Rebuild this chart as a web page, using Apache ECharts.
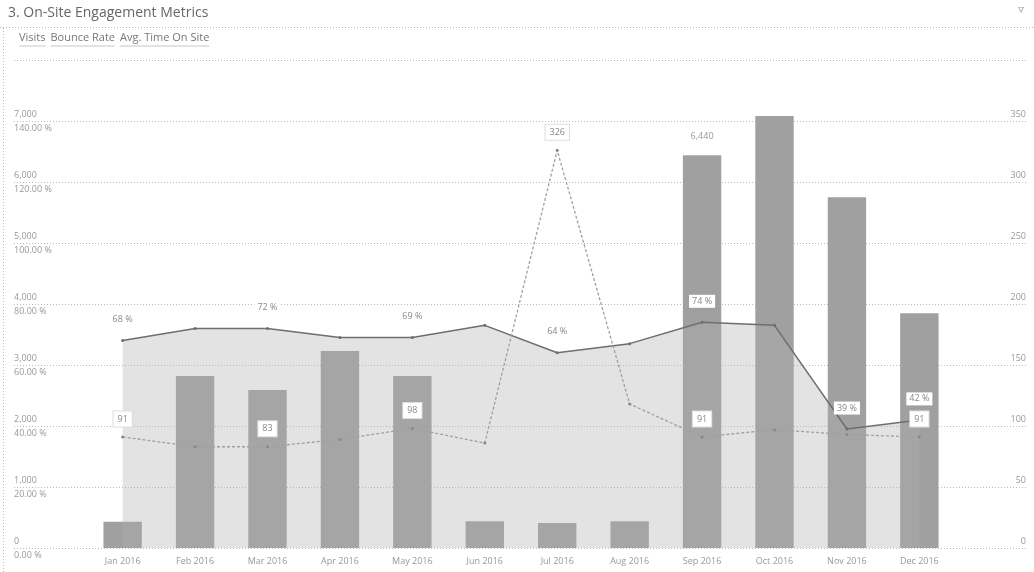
<!DOCTYPE html>
<html>
<head>
<meta charset="utf-8">
<title>On-Site Engagement Metrics</title>
<script src="https://cdn.jsdelivr.net/npm/echarts/dist/echarts.min.js"></script>
<style>
  html, body { margin: 0; padding: 0; background: #fff; }
  #chart { width: 1034px; height: 572px; }
</style>
</head>
<body>
<div id="chart"></div>
<script>
// Monthly engagement figures for 2016
const months = ['Jan 2016', 'Feb 2016', 'Mar 2016', 'Apr 2016', 'May 2016', 'Jun 2016',
                'Jul 2016', 'Aug 2016', 'Sep 2016', 'Oct 2016', 'Nov 2016', 'Dec 2016'];
const visits = [430, 2820, 2590, 3230, 2820, 440, 410, 440, 6440, 7080, 5750, 3850];
const bounceRate = [68, 72, 72, 69, 69, 73, 64, 67, 74, 73, 39, 42];        // %
const avgTimeOnSite = [91, 83, 83, 89, 98, 86, 326, 118, 91, 97, 93, 91];   // seconds

// Months whose value labels are printed
const visitLabelMonths = [8];
const bounceLabelMonths = [0, 2, 4, 6, 8, 10, 11];
const timeLabelMonths = [0, 2, 4, 6, 8, 11];

// One empty slot at each end leaves room for the inside axis labels
const categories = [''].concat(months, ['']);
const pad = arr => [null].concat(arr, [null]);
const withLabels = (arr, shown) =>
  pad(arr).map((v, i) => v == null ? null : { value: v, label: { show: shown.includes(i - 1) } });

const chart = echarts.init(document.getElementById('chart'));

chart.setOption({
  animation: false,
  backgroundColor: '#fff',
  textStyle: { fontFamily: 'Open Sans, sans-serif' },
  title: {
    text: '3. On-Site Engagement Metrics',
    left: 3, top: 1,
    textStyle: { fontSize: 14, fontWeight: 'normal', color: '#666' }
  },
  legend: {
    left: 9, top: 27,
    icon: 'none',
    itemWidth: 0, itemGap: 0,
    data: ['Visits', 'Bounce Rate', 'Avg. Time On Site'],
    formatter: name => '{t|' + name + '}\n{u| }',
    textStyle: {
      rich: {
        t: { fontSize: 11, color: '#777', lineHeight: 13 },
        u: { width: '100%', height: 1, lineHeight: 4, backgroundColor: '#c8c8c8', fontSize: 1 }
      }
    }
  },
  graphic: [
    { type: 'line', shape: { x1: 0, y1: 27.5, x2: 1034, y2: 27.5 },
      style: { stroke: '#bbb', lineWidth: 1, lineDash: [1, 2] }, silent: true },
    { type: 'line', shape: { x1: 3.5, y1: 28, x2: 3.5, y2: 572 },
      style: { stroke: '#bbb', lineWidth: 1, lineDash: [1, 2] }, silent: true },
    { type: 'text', right: 10, top: 4,
      style: { text: '\u25BF', fontSize: 12, fill: '#999' }, silent: true }
  ],
  grid: { left: 14, right: 6, top: 60, bottom: 24 },
  xAxis: {
    type: 'category',
    data: categories,
    axisLine: { show: false },
    axisTick: { show: false },
    axisLabel: { color: '#999', fontSize: 9, margin: 9, interval: 0 }
  },
  yAxis: [
    {
      type: 'value', position: 'left',
      min: 0, max: 8000, interval: 1000,
      axisLine: { show: false }, axisTick: { show: false },
      axisLabel: { inside: true, showMaxLabel: false, color: '#999', fontSize: 9,
                   margin: 0, verticalAlign: 'bottom', padding: [0, 0, 2, 0] },
      splitLine: { lineStyle: { color: '#bbb', type: [1, 2] } }
    },
    {
      type: 'value', position: 'left',
      min: 0, max: 160, interval: 20,
      axisLine: { show: false }, axisTick: { show: false },
      axisLabel: { inside: true, showMaxLabel: false, color: '#999', fontSize: 9,
                   margin: 0, verticalAlign: 'top', padding: [3, 0, 0, 0],
                   formatter: v => v.toFixed(2) + ' %' },
      splitLine: { show: false }
    },
    {
      type: 'value', position: 'right',
      min: 0, max: 400, interval: 50,
      axisLine: { show: false }, axisTick: { show: false },
      axisLabel: { inside: true, showMaxLabel: false, color: '#999', fontSize: 9,
                   margin: 2, verticalAlign: 'bottom', padding: [0, 0, 2, 0] },
      splitLine: { show: false }
    }
  ],
  series: [
    {
      name: 'Visits',
      type: 'bar',
      yAxisIndex: 0,
      data: withLabels(visits, visitLabelMonths),
      barWidth: '53%',
      z: 2,
      itemStyle: { color: '#a0a0a0' },
      label: { position: 'top', distance: 14, color: '#999', fontSize: 9,
               formatter: p => p.value.toLocaleString('en-US') }
    },
    {
      name: 'Bounce Rate',
      type: 'line',
      yAxisIndex: 1,
      data: withLabels(bounceRate, bounceLabelMonths),
      z: 3,
      symbol: 'circle', symbolSize: 3,
      lineStyle: { color: '#6e6e6e', width: 1.5 },
      itemStyle: { color: '#6e6e6e' },
      areaStyle: { color: 'rgba(175,175,175,0.5)' },
      label: {
        position: 'top', distance: 13, color: '#888', fontSize: 9,
        backgroundColor: '#fff', padding: [2, 3],
        formatter: p => p.value + ' %'
      }
    },
    {
      name: 'Avg. Time On Site',
      type: 'line',
      yAxisIndex: 2,
      data: withLabels(avgTimeOnSite, timeLabelMonths),
      z: 4,
      symbol: 'circle', symbolSize: 3,
      lineStyle: { color: '#a0a0a0', width: 1.3, type: [3, 2] },
      itemStyle: { color: '#888' },
      label: {
        position: 'top', distance: 9, color: '#888', fontSize: 9,
        backgroundColor: '#fff', borderColor: '#ddd', borderWidth: 1,
        padding: [3, 4]
      }
    }
  ]
});
</script>
</body>
</html>
